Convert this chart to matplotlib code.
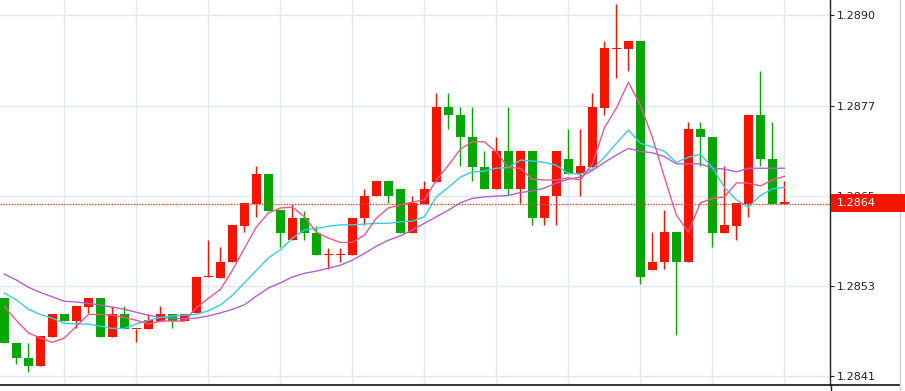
import numpy as np
import matplotlib.pyplot as plt
from matplotlib.patches import Rectangle
from matplotlib.lines import Line2D

# OHLC (66 bars)
opens = [1.28516, 1.28455, 1.28435, 1.28424, 1.28464, 1.28495, 1.28485, 1.28504, 1.28516, 1.28464,
         1.28495, 1.28474, 1.28474, 1.28485, 1.28495, 1.28485, 1.28496, 1.28545, 1.28544, 1.28565,
         1.28615, 1.28645, 1.28685, 1.28636, 1.28595, 1.28625, 1.28605, 1.28575, 1.28575, 1.28575,
         1.28625, 1.28655, 1.28675, 1.28665, 1.28605, 1.28645, 1.28674, 1.28776, 1.28766, 1.28735,
         1.28695, 1.28665, 1.28716, 1.28665, 1.28716, 1.28625, 1.28655, 1.28705, 1.28685, 1.28695,
         1.28775, 1.28855, 1.28855, 1.28866, 1.28555, 1.28565, 1.28606, 1.28565, 1.28746, 1.28736,
         1.28605, 1.28615, 1.28645, 1.28766, 1.28706, 1.28645]
highs = [1.28516, 1.28455, 1.28455, 1.28465, 1.28495, 1.28495, 1.28505, 1.28516, 1.28516, 1.28505,
         1.28505, 1.28474, 1.28495, 1.28505, 1.28495, 1.28495, 1.28545, 1.28596, 1.28586, 1.28616,
         1.28646, 1.28696, 1.28685, 1.28636, 1.28645, 1.28635, 1.28615, 1.28585, 1.28585, 1.28625,
         1.28665, 1.28675, 1.28675, 1.28665, 1.28655, 1.28675, 1.28796, 1.28796, 1.28776, 1.28776,
         1.28716, 1.28736, 1.28776, 1.28716, 1.28716, 1.28655, 1.28716, 1.28746, 1.28746, 1.28796,
         1.28866, 1.28916, 1.28866, 1.28866, 1.28606, 1.28636, 1.28606, 1.28756, 1.28756, 1.28736,
         1.28696, 1.28646, 1.28766, 1.28826, 1.28756, 1.28675]
lows = [1.28455, 1.28426, 1.28416, 1.28424, 1.28464, 1.28485, 1.28476, 1.28496, 1.28464, 1.28464,
        1.28474, 1.28456, 1.28474, 1.28485, 1.28476, 1.28485, 1.28496, 1.28545, 1.28544, 1.28565,
        1.28606, 1.28626, 1.28635, 1.28586, 1.28595, 1.28596, 1.28575, 1.28556, 1.28566, 1.28575,
        1.28616, 1.28655, 1.28646, 1.28605, 1.28605, 1.28645, 1.28674, 1.28746, 1.28696, 1.28676,
        1.28665, 1.28665, 1.28656, 1.28646, 1.28616, 1.28616, 1.28616, 1.28685, 1.28655, 1.28695,
        1.28766, 1.28816, 1.28826, 1.28536, 1.28555, 1.28556, 1.28466, 1.28565, 1.28696, 1.28586,
        1.28605, 1.28596, 1.28626, 1.28696, 1.28645, 1.28645]
closes = [1.28455, 1.28435, 1.28424, 1.28465, 1.28495, 1.28485, 1.28505, 1.28516, 1.28464, 1.28495,
          1.28474, 1.28474, 1.28486, 1.28495, 1.28485, 1.28495, 1.28545, 1.28545, 1.28566, 1.28616,
          1.28646, 1.28685, 1.28635, 1.28605, 1.28625, 1.28605, 1.28575, 1.28575, 1.28575, 1.28625,
          1.28655, 1.28675, 1.28655, 1.28605, 1.28646, 1.28665, 1.28776, 1.28765, 1.28735, 1.28695,
          1.28665, 1.28716, 1.28665, 1.28716, 1.28625, 1.28655, 1.28716, 1.28685, 1.28696, 1.28776,
          1.28856, 1.28855, 1.28866, 1.28545, 1.28565, 1.28606, 1.28565, 1.28746, 1.28735, 1.28605,
          1.28616, 1.28646, 1.28766, 1.28705, 1.28645, 1.28645]

# moving average lines
ma_fast = [1.28505, 1.28486, 1.28469, 1.28462, 1.28456, 1.28462, 1.28478, 1.28494, 1.28494, 1.28493,
           1.28490, 1.28486, 1.28481, 1.28485, 1.28485, 1.28485, 1.28503, 1.28516, 1.28528, 1.28554,
           1.28584, 1.28613, 1.28632, 1.28639, 1.28640, 1.28627, 1.28606, 1.28598, 1.28592, 1.28592,
           1.28602, 1.28625, 1.28639, 1.28643, 1.28647, 1.28650, 1.28677, 1.28697, 1.28719, 1.28729,
           1.28729, 1.28715, 1.28694, 1.28693, 1.28678, 1.28677, 1.28677, 1.28680, 1.28677, 1.28699,
           1.28748, 1.28775, 1.28810, 1.28779, 1.28735, 1.28681, 1.28629, 1.28606, 1.28646, 1.28652,
           1.28654, 1.28673, 1.28673, 1.28669, 1.28677, 1.28682]
ma_mid = [1.28523, 1.28514, 1.28501, 1.28494, 1.28489, 1.28482, 1.28481, 1.28481, 1.28478, 1.28475,
          1.28475, 1.28481, 1.28486, 1.28490, 1.28492, 1.28493, 1.28494, 1.28499, 1.28507, 1.28520,
          1.28537, 1.28554, 1.28571, 1.28582, 1.28598, 1.28609, 1.28611, 1.28614, 1.28616, 1.28616,
          1.28617, 1.28618, 1.28618, 1.28620, 1.28621, 1.28627, 1.28654, 1.28667, 1.28681, 1.28688,
          1.28689, 1.28693, 1.28694, 1.28704, 1.28703, 1.28701, 1.28697, 1.28686, 1.28685, 1.28692,
          1.28708, 1.28727, 1.28745, 1.28727, 1.28722, 1.28716, 1.28701, 1.28708, 1.28712, 1.28694,
          1.28667, 1.28650, 1.28640, 1.28656, 1.28665, 1.28667]
ma_slow = [1.28549, 1.28541, 1.28531, 1.28524, 1.28518, 1.28512, 1.28511, 1.28509, 1.28507, 1.28504,
           1.28501, 1.28497, 1.28493, 1.28490, 1.28489, 1.28488, 1.28489, 1.28492, 1.28496, 1.28501,
           1.28507, 1.28519, 1.28530, 1.28537, 1.28545, 1.28550, 1.28553, 1.28557, 1.28561, 1.28568,
           1.28577, 1.28587, 1.28595, 1.28601, 1.28609, 1.28618, 1.28627, 1.28636, 1.28646, 1.28652,
           1.28654, 1.28655, 1.28656, 1.28660, 1.28662, 1.28666, 1.28673, 1.28678, 1.28681, 1.28690,
           1.28701, 1.28711, 1.28720, 1.28716, 1.28714, 1.28709, 1.28699, 1.28699, 1.28699, 1.28693,
           1.28692, 1.28688, 1.28693, 1.28693, 1.28693, 1.28693]

ytick_vals = [1.28410, 1.28533, 1.286555, 1.28778, 1.28902]
ytick_labels = ['1.2841', '1.2853', '1.2865', '1.2877', '1.2890']
last_price = 1.28645
last_label = '1.2864'

RED = '#f21500'
GREEN = '#05a605'

fig = plt.figure(figsize=(9.05, 3.91), dpi=100)
ax = fig.add_axes([0, 391 - 385, 830, 385], transform=None)
ax.set_position([0, 6 / 391, 830 / 905, 385 / 391])

x = np.arange(len(opens))
o = np.array(opens)
c = np.array(closes)
up = c >= o
cols = np.where(up, RED, GREEN)

ax.vlines(x, lows, highs, colors=cols, lw=1.0, zorder=2)
bottom = np.minimum(o, c)
height = np.maximum(np.abs(c - o), 0.000018)
ax.bar(x, height, bottom=bottom, width=0.74, color=cols, lw=0, zorder=3)

ax.plot(x, ma_slow, color='#b55fcf', lw=1.0, zorder=4)
ax.plot(x, ma_mid, color='#38cde0', lw=1.0, zorder=4)
ax.plot(x, ma_fast, color='#f0568c', lw=1.0, zorder=4)

ax.axhline(last_price, color='#f04030', lw=1.0, ls=(0, (1, 1)), zorder=5)

ax.set_xlim(-0.36, 68.8)
ax.set_ylim(1.28398, 1.28922)
ax.set_xticks(np.arange(5, 66, 6))
ax.set_xticklabels([])
ax.tick_params(axis='x', length=0)
ax.yaxis.tick_right()
ax.set_yticks(ytick_vals)
ax.set_yticklabels(ytick_labels)
ax.tick_params(axis='y', direction='out', length=3, width=0.8, labelsize=8,
               pad=2, colors='#222222')
ax.grid(True, color='#dfe9f1', lw=1.0, zorder=0)
ax.set_axisbelow(True)
for s in ['top', 'left', 'bottom']:
    ax.spines[s].set_visible(False)
ax.spines['right'].set_color('#222222')
ax.spines['right'].set_linewidth(1.0)

# frame lines outside the plot area
fig.add_artist(Line2D([0, 900 / 905], [6 / 391, 6 / 391], color='#111111', lw=1.2,
                      transform=fig.transFigure))
fig.add_artist(Line2D([830.5 / 905, 830.5 / 905], [0, 6 / 391], color='#222222', lw=1.0,
                      transform=fig.transFigure))
fig.add_artist(Line2D([899.5 / 905, 899.5 / 905], [0, 1], color='#d0d0d0', lw=1.0,
                      transform=fig.transFigure))

# last price tag
fig.add_artist(Rectangle((831 / 905, (391 - 212) / 391), 74 / 905, 18 / 391,
                         facecolor='#f21500', edgecolor='none', transform=fig.transFigure, zorder=10))
fig.text(837 / 905, (391 - 203) / 391, last_label, color='white', fontsize=8,
         va='center', ha='left', zorder=11)

fig.savefig('out.png', dpi=100)
